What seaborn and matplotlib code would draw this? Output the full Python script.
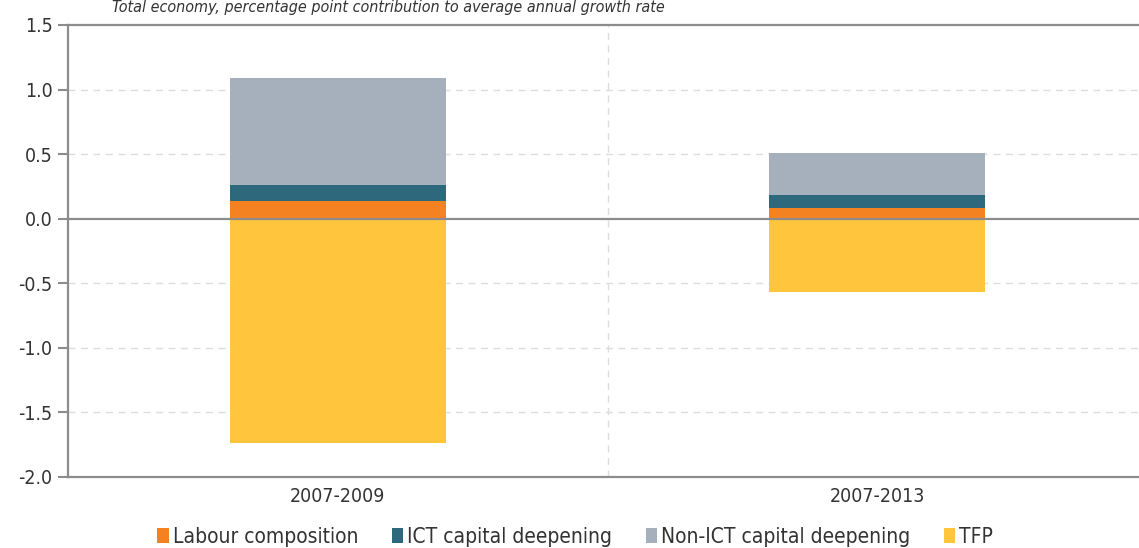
import matplotlib
matplotlib.use("Agg")
import matplotlib.pyplot as plt
from matplotlib.patches import Patch
import seaborn as sns
import pandas as pd

periods = ["2007-2009", "2007-2013"]
labour = [0.14, 0.08]
ict = [0.12, 0.10]
non_ict = [0.83, 0.33]
tfp = [-1.74, -0.57]

series_names = ["Labour composition", "ICT capital deepening", "Non-ICT capital deepening", "TFP"]
colors = ["#F58220", "#2D687C", "#A6B0BD", "#FEC53D"]
yticks = [1.5, 1.0, 0.5, 0.0, -0.5, -1.0, -1.5, -2.0]

df = pd.DataFrame({"period": periods, "labour": labour, "ict": ict,
                   "non_ict": non_ict, "tfp": tfp})
# stacked: draw cumulative tops first, smaller ones over them
df["c3"] = df.labour + df.ict + df.non_ict
df["c2"] = df.labour + df.ict
df["c1"] = df.labour

sns.set_style("white")
plt.rcParams["font.family"] = ["DejaVu Sans"]
plt.rcParams["font.stretch"] = "condensed"
grey = "#8C8C8C"
txt = "#333333"

fig = plt.figure(figsize=(11.39, 5.48), dpi=100)
ax = fig.add_axes([68 / 1139, 71 / 548, 1079 / 1139, 452 / 548])

for col, c in zip(["c3", "c2", "c1", "tfp"], [colors[2], colors[1], colors[0], colors[3]]):
    sns.barplot(data=df, x="period", y=col, color=c, width=0.4, saturation=1,
                edgecolor="none", linewidth=0, ax=ax, zorder=3)

ax.set_xlim(-0.5, 1.5)
ax.set_ylim(-2.0, 1.5)
ax.set_yticks(yticks)
ax.set_yticklabels([f"{v:.1f}" for v in yticks], fontsize=14, color=txt)
ax.set_xticks(range(len(periods)))
ax.set_xticklabels(periods, fontsize=14, color=txt)
ax.set_xlabel("")
ax.set_ylabel("")
ax.tick_params(axis="y", direction="out", length=7, width=1.5, color=grey, pad=4, left=True)
ax.tick_params(axis="x", length=0, pad=7)

for v in [1.0, 0.5, -0.5, -1.0, -1.5]:
    ax.axhline(v, color="#DDDDDD", lw=1, ls=(0, (5, 4)), zorder=1)
ax.axvline(0.5, color="#DDDDDD", lw=1, ls=(0, (5, 4)), zorder=1)
ax.axhline(0, color=grey, lw=1.6, zorder=4)

for s in ["top", "bottom", "left"]:
    ax.spines[s].set_color(grey)
    ax.spines[s].set_linewidth(1.6)
ax.spines["right"].set_visible(False)

handles = [Patch(facecolor=c, edgecolor="none") for c in colors]
fig.legend(handles, series_names, loc="center", bbox_to_anchor=(0.505, 1 - 537 / 548),
           ncol=4, frameon=False, fontsize=15, handlelength=0.55, handleheight=0.7,
           handletextpad=0.2, columnspacing=1.6, labelcolor=txt)

fig.text(112 / 1139, 1.0,
         "Total economy, percentage point contribution to average annual growth rate",
         fontsize=11.5, style="italic", color=txt, va="top", ha="left")

fig.savefig("out.png", dpi=100)
